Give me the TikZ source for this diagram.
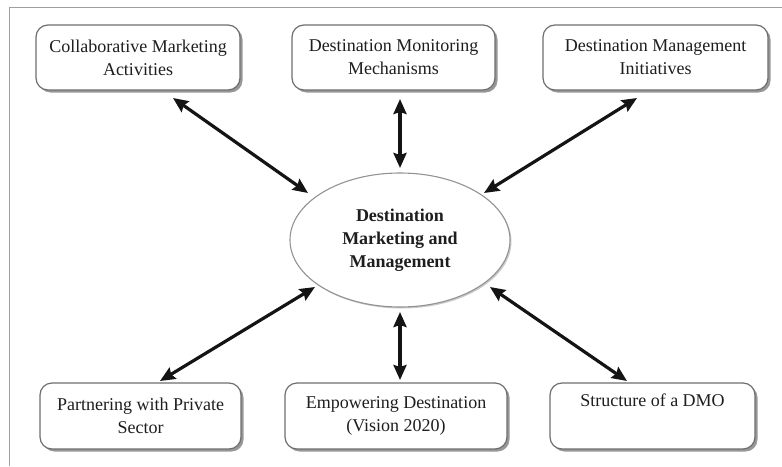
\documentclass[tikz,border=0pt]{standalone}
\usepackage{fontspec}
\setmainfont{Liberation Serif}
\usetikzlibrary{shadows,arrows.meta,calc,shapes.geometric}
\definecolor{boxline}{HTML}{6E6E6E}
\definecolor{txt}{HTML}{1E1E1E}
\tikzset{
  box/.style={draw=boxline, line width=1.2pt, rounded corners=12pt, fill=white,
    outer sep=0pt, align=center, text=txt, font=\fontsize{18}{23}\selectfont,
    drop shadow={shadow xshift=2.5pt, shadow yshift=-2.5pt, fill=gray!90, opacity=0.9}},
  hub/.style={draw=gray!85, line width=1.1pt, ellipse, fill=white, outer sep=0pt,
    minimum width=220pt, minimum height=134pt, inner sep=0pt, align=center, text=txt,
    font=\fontsize{18}{23}\selectfont\bfseries,
    drop shadow={shadow xshift=1.5pt, shadow yshift=-1.5pt, fill=gray!60, opacity=0.7}},
  tip/.tip={Stealth[length=15pt,width=13pt,inset=2pt]},
  arr/.style={tip-tip, line width=3.2pt, black!92}
}
\begin{document}
\begin{tikzpicture}[x=1pt,y=-1pt]
\useasboundingbox (0,0) rectangle (782,466);
\draw[gray!75, line width=1.5pt] (9.5,466) -- (9.5,7.5) -- (782,7.5);
\node[box, minimum width=204pt, minimum height=65pt] (b1) at (138,57.5) {Collaborative Marketing\\Activities};
\node[box, minimum width=203pt, minimum height=65pt] (b2) at (393.5,57.5) {Destination Monitoring\\Mechanisms};
\node[box, minimum width=225pt, minimum height=65pt] (b3) at (655.5,57.5) {Destination Management\\Initiatives};
\node[hub] (m) at (400,240) {Destination\\Marketing and\\Management};
\node[box, minimum width=201pt, minimum height=66pt] (p1) at (140.5,416) {Partnering with Private\\Sector};
\node[box, minimum width=222pt, minimum height=66pt] (p2) at (396,416) {Empowering Destination\\(Vision 2020)};
\node[box, minimum width=205pt, minimum height=66pt, text depth=34pt, text height=14pt] (p3) at (652.5,416) {Structure of a DMO};
\draw[arr] ([shift={(35,8)}]b1.south) -- ([shift={(-92,-47)}]m.center);
\draw[arr] ([shift={(6.5,9)}]b2.south) -- ([shift={(0,-72)}]m.center);
\draw[arr] ([shift={(-18.5,8)}]b3.south) -- ([shift={(84,-47)}]m.center);
\draw[arr] ([shift={(-85,47)}]m.center) -- ([shift={(19.5,-2)}]p1.north);
\draw[arr] ([shift={(0,72)}]m.center) -- ([shift={(4,-3)}]p2.north);
\draw[arr] ([shift={(90,47)}]m.center) -- ([shift={(-25.5,-2)}]p3.north);
\end{tikzpicture}
\end{document}
